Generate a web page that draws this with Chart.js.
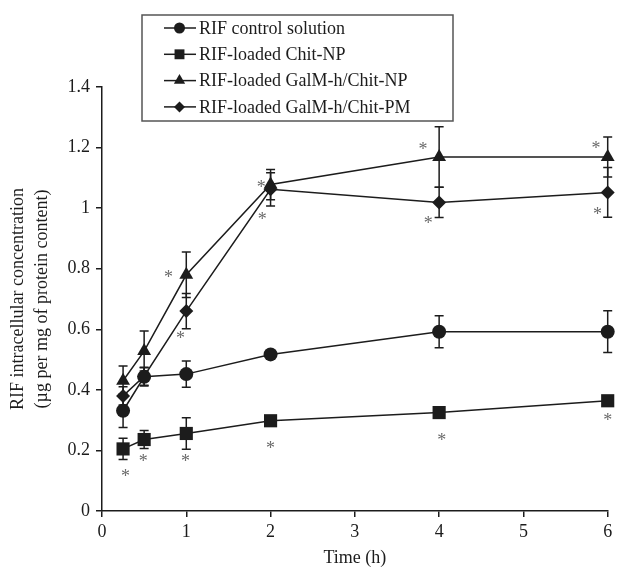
<!DOCTYPE html>
<html>
<head>
<meta charset="utf-8">
<script src="https://cdn.jsdelivr.net/npm/chart.js@4.4.1/dist/chart.umd.min.js"></script>
<style>
  html, body { margin: 0; padding: 0; background: #fff; }
  #wrap { width: 617px; height: 570px; position: relative; }
</style>
</head>
<body>
<div id="wrap"><canvas id="rifChart"></canvas></div>
<script>
const timePoints = [0.25, 0.5, 1, 2, 4, 6];
const seriesNames = [
  "RIF control solution",
  "RIF-loaded Chit-NP",
  "RIF-loaded GalM-h/Chit-NP",
  "RIF-loaded GalM-h/Chit-PM"
];
const controlValues = [0.331, 0.443, 0.452, 0.517, 0.592, 0.592];
const controlErrors = [0.055, 0.03, 0.043, 0, 0.053, 0.069];
const chitNpValues = [0.205, 0.236, 0.256, 0.298, 0.325, 0.364];
const chitNpErrors = [0.035, 0.03, 0.052, 0, 0.012, 0];
const galmNpValues = [0.43, 0.528, 0.78, 1.078, 1.169, 1.169];
const galmNpErrors = [0.049, 0.066, 0.075, 0.05, 0.1, 0.066];
const galmPmValues = [0.38, 0.445, 0.66, 1.062, 1.019, 1.052];
const galmPmErrors = [0.03, 0.03, 0.058, 0.055, 0.05, 0.082];
const starTimes = [0.28, 0.49, 0.99, 2.0, 4.03, 6.0, 0.79, 0.93, 1.89, 1.9, 3.81, 3.87, 5.86, 5.88];
const starValues = [0.123, 0.175, 0.175, 0.216, 0.245, 0.309, 0.782, 0.58, 1.08, 0.973, 1.205, 0.96, 1.208, 0.99];
const yTicks = [0, 0.2, 0.4, 0.6, 0.8, 1, 1.2, 1.4];
const xTicks = [0, 1, 2, 3, 4, 5, 6];

const ink = "#1c1c1c";
const serif = "'Liberation Serif', 'Times New Roman', serif";

const markerStyles = [
  { style: "circle", radius: 7, legendRadius: 5.5 },
  { style: "rect", radius: 9.3, legendRadius: 7 },
  { style: "triangle", radius: 8, legendRadius: 6.5 },
  { style: "rectRot", radius: 7, legendRadius: 5.5 }
];
const seriesValues = [controlValues, chitNpValues, galmNpValues, galmPmValues];
const seriesErrors = [controlErrors, chitNpErrors, galmNpErrors, galmPmErrors];

const datasets = seriesNames.map((name, i) => ({
  label: name,
  data: timePoints.map((t, j) => ({ x: t, y: seriesValues[i][j] })),
  errors: seriesErrors[i],
  borderColor: ink,
  backgroundColor: ink,
  borderWidth: 1.5,
  pointStyle: markerStyles[i].style,
  pointRadius: markerStyles[i].radius,
  pointBorderWidth: 0,
  pointBackgroundColor: ink,
  tension: 0,
  clip: false
}));

// vertical error bars with caps, drawn under the markers
const errorBarPlugin = {
  id: "errorBars",
  beforeDatasetsDraw(chart) {
    const { ctx, scales } = chart;
    ctx.save();
    ctx.strokeStyle = ink;
    ctx.lineWidth = 1.5;
    chart.data.datasets.forEach((ds) => {
      ds.data.forEach((pt, j) => {
        const err = ds.errors[j];
        if (!err) return;
        const x = scales.x.getPixelForValue(pt.x);
        const top = scales.y.getPixelForValue(pt.y + err);
        const bottom = scales.y.getPixelForValue(pt.y - err);
        ctx.beginPath();
        ctx.moveTo(x, top);
        ctx.lineTo(x, bottom);
        ctx.moveTo(x - 4.5, top);
        ctx.lineTo(x + 4.5, top);
        ctx.moveTo(x - 4.5, bottom);
        ctx.lineTo(x + 4.5, bottom);
        ctx.stroke();
      });
    });
    ctx.restore();
  }
};

const starPlugin = {
  id: "stars",
  afterDatasetsDraw(chart) {
    const { ctx, scales } = chart;
    ctx.save();
    ctx.fillStyle = "#6a6a6a";
    ctx.font = "18px " + serif;
    ctx.textAlign = "center";
    ctx.textBaseline = "middle";
    starTimes.forEach((t, i) => {
      const x = scales.x.getPixelForValue(t);
      const y = scales.y.getPixelForValue(starValues[i]);
      ctx.fillText("*", x, y + 4);
    });
    ctx.restore();
  }
};

const legendBoxPlugin = {
  id: "legendBox",
  afterDraw(chart) {
    const ctx = chart.ctx;
    const box = { left: 142, top: 15, right: 453, bottom: 121 };
    ctx.save();
    ctx.fillStyle = "#fff";
    ctx.fillRect(box.left, box.top, box.right - box.left, box.bottom - box.top);
    ctx.strokeStyle = "#555";
    ctx.lineWidth = 1.5;
    ctx.strokeRect(box.left, box.top, box.right - box.left, box.bottom - box.top);
    ctx.font = "18px " + serif;
    ctx.textBaseline = "middle";
    ctx.textAlign = "left";
    seriesNames.forEach((name, i) => {
      const y = 28 + i * 26.3;
      ctx.strokeStyle = ink;
      ctx.lineWidth = 1.5;
      ctx.beginPath();
      ctx.moveTo(164, y);
      ctx.lineTo(196, y);
      ctx.stroke();
      ctx.fillStyle = ink;
      Chart.helpers.drawPoint(ctx, {
        pointStyle: markerStyles[i].style,
        radius: markerStyles[i].legendRadius,
        rotation: 0,
        borderWidth: 0
      }, 179.5, y);
      ctx.fillStyle = ink;
      ctx.fillText(name, 199, y + 1);
    });
    ctx.restore();
  }
};

new Chart(document.getElementById("rifChart"), {
  type: "line",
  data: { datasets },
  plugins: [errorBarPlugin, starPlugin, legendBoxPlugin],
  options: {
    responsive: true,
    maintainAspectRatio: false,
    animation: false,
    layout: { padding: { top: 87, right: 8, bottom: 0, left: 0 } },
    plugins: {
      legend: { display: false },
      tooltip: { enabled: false }
    },
    scales: {
      x: {
        type: "linear",
        min: 0,
        max: 6,
        afterFit: (s) => { s.height = 59; },
        afterBuildTicks: (s) => { s.ticks = xTicks.map((v) => ({ value: v })); },
        grid: { drawOnChartArea: false, drawTicks: true, tickLength: 6, color: ink, lineWidth: 1.5 },
        border: { color: ink, width: 1.5 },
        ticks: { color: ink, font: { family: serif, size: 18 }, padding: 4, callback: (v) => String(v) },
        title: {
          display: true,
          text: "Time (h)",
          color: ink,
          font: { family: serif, size: 18 },
          padding: { top: 10, bottom: 1 }
        }
      },
      y: {
        min: 0,
        max: 1.4,
        afterFit: (s) => { s.width = 102; },
        afterBuildTicks: (s) => { s.ticks = yTicks.map((v) => ({ value: v })); },
        grid: { drawOnChartArea: false, drawTicks: true, tickLength: 6, color: ink, lineWidth: 1.5 },
        border: { color: ink, width: 1.5 },
        ticks: { color: ink, font: { family: serif, size: 18 }, padding: 6, callback: (v) => String(v) },
        title: {
          display: true,
          text: ["RIF intracellular concentration", "(\u00b5g per mg of protein content)"],
          color: ink,
          font: { family: serif, size: 18, lineHeight: 1.33 },
          padding: { top: 6, bottom: 0 }
        }
      }
    }
  }
});
</script>
</body>
</html>
